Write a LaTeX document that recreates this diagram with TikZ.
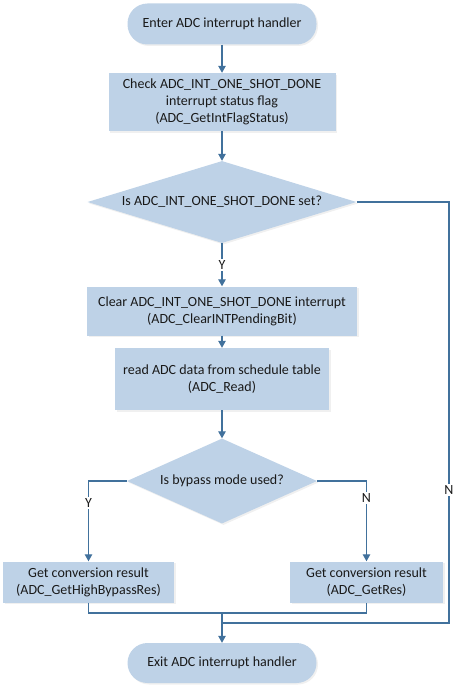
\documentclass[tikz,border=0pt]{standalone}
\usepackage{fontspec}
\setmainfont{Carlito}
\usetikzlibrary{shapes.geometric,arrows.meta,positioning,calc,shadows}
\definecolor{boxblue}{RGB}{190,210,231}
\definecolor{lineblue}{RGB}{65,113,156}
\definecolor{textgray}{RGB}{25,25,25}
\tikzset{
  proc/.style={rectangle, fill=boxblue, align=center, inner sep=0pt, text=textgray,
    font=\fontsize{14}{17.3}\selectfont,
    drop shadow={opacity=0.12, shadow xshift=1.5pt, shadow yshift=-1.5pt}},
  term/.style={proc, rounded corners=20pt},
  decide/.style={proc, diamond},
  link/.style={draw=lineblue, line width=1.2pt},
  flow/.style={link, -{Triangle[length=7pt,width=7.5pt]}},
  yn/.style={fill=white, inner sep=1.5pt, text=textgray, font=\fontsize{14}{16}\selectfont}
}
\begin{document}
\begin{tikzpicture}[x=1pt,y=-1pt]
        \useasboundingbox (0,0) rectangle (461,693);
        % Draw the steps
        \node[term, minimum width=189pt, minimum height=41pt] (enter) at (222,24) {Enter ADC interrupt handler};
        \node[proc, minimum width=227pt, minimum height=58pt] (check) at (222,102)
          {Check ADC\_INT\_ONE\_SHOT\_DONE\\interrupt status flag\\(ADC\_GetIntFlagStatus)};
        \node[decide, minimum width=269pt, minimum height=82pt] (isdone) at (222,202)
          {\makebox[0pt]{Is ADC\_INT\_ONE\_SHOT\_DONE set?}};
        \node[proc, minimum width=270pt, minimum height=49pt] (clear) at (222,311)
          {Clear ADC\_INT\_ONE\_SHOT\_DONE interrupt\\(ADC\_ClearINTPendingBit)};
        \node[proc, minimum width=214pt, minimum height=62pt] (read) at (222,379)
          {read ADC data from schedule table\\(ADC\_Read)};
        \node[decide, minimum width=190pt, minimum height=85pt] (bypass) at (222,481)
          {\makebox[0pt]{Is bypass mode used?}};
        \node[proc, minimum width=171pt, minimum height=41pt] (getbyp) at (88.5,582)
          {Get conversion result\\(ADC\_GetHighBypassRes)};
        \node[proc, minimum width=153pt, minimum height=41pt] (getres) at (366.5,582)
          {Get conversion result\\(ADC\_GetRes)};
        \node[term, minimum width=189pt, minimum height=40pt] (exit) at (222,663) {Exit ADC interrupt handler};
        % Join points
        \coordinate (join) at (222,613);
        \coordinate (corner) at (449,623);
        \coordinate (back) at (222,623);
        % Draw the connectors
        \draw[flow] (enter) -- (check);
        \draw[flow] (check) -- (isdone);
        \draw[flow] (isdone) -- node[yn] {Y} (clear);
        \draw[flow] (clear) -- (read);
        \draw[flow] (read) -- (bypass);
        \draw[flow] (bypass.west) -| node[yn, pos=0.635] {Y} (getbyp);
        \draw[flow] (bypass.east) -| node[yn, pos=0.605] {N} (getres);
        \draw[link] (getbyp) |- (join) -| (getres);
        \draw[link] (isdone.east) -| node[yn, pos=0.842] {N} (corner) -- (back);
        \draw[flow] (join) -- (exit);
      \end{tikzpicture}
\end{document}
